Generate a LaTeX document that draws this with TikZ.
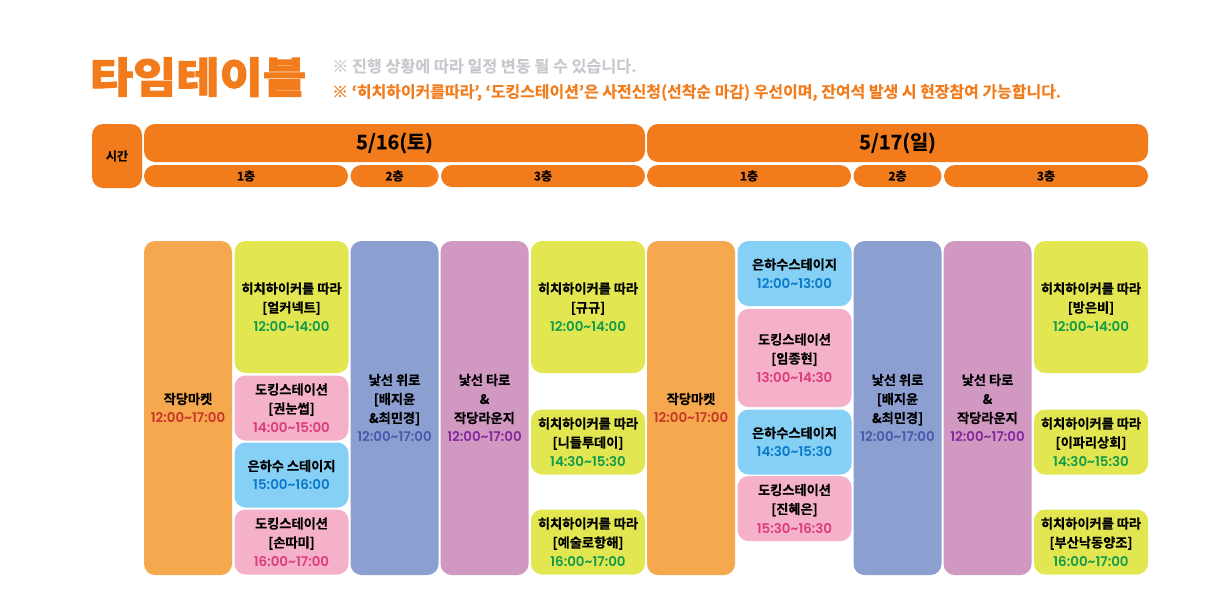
\documentclass[tikz,border=0pt]{standalone}
\usepackage{fontspec}
\setmainfont{Noto Sans CJK KR}[BoldFont={Noto Sans CJK KR Bold},BoldFeatures={FakeBold=0.3}]
\newfontfamily\titlefont[FakeBold=2.2,FakeStretch=1.12]{Noto Sans CJK KR Black}
\newfontfamily\timefont{Poppins SemiBold}
\definecolor{hdorange}{HTML}{F27B1C}
\definecolor{marketc}{HTML}{F5A84E}
\definecolor{hitchc}{HTML}{E2E651}
\definecolor{dockc}{HTML}{F4B1C9}
\definecolor{galaxyc}{HTML}{86D0F6}
\definecolor{comfortc}{HTML}{8C9FD1}
\definecolor{tarotc}{HTML}{D198C2}
\definecolor{tmarket}{HTML}{C8352A}
\definecolor{thitch}{HTML}{109B4C}
\definecolor{tdock}{HTML}{DC3D78}
\definecolor{tgalaxy}{HTML}{0A78C8}
\definecolor{tcomfort}{HTML}{4A58AC}
\definecolor{ttarot}{HTML}{84279C}
\definecolor{notegray}{HTML}{C8C9CE}
\tikzset{
  cell/.style={rounded corners=11pt,inner sep=0pt,align=center,font=\bfseries\fontsize{13.2}{19}\selectfont,text=black},
  head/.style={cell,fill=hdorange},
  floorhd/.style={head,minimum height=22pt,font=\bfseries\fontsize{12}{12}\selectfont},
  dayhd/.style={head,minimum width=501pt,minimum height=38pt,font=\bfseries\fontsize{20}{20}\selectfont},
}
\newcommand{\tm}[2]{{\timefont\mdseries\fontsize{13.4}{19}\selectfont\color{#1}#2}}
\begin{document}
\begin{tikzpicture}[x=1pt,y=-1pt]
\useasboundingbox (0,0) rectangle (1205,606);
% title and notes
\node (title) [anchor=center,text=hdorange,font=\titlefont\fontsize{42}{42}\selectfont] at (198,77) {타임테이블};
\node (note1) [anchor=west,inner sep=0pt,text=notegray,font=\bfseries\fontsize{16.2}{16}\selectfont] at (332,66) {※ 진행 상황에 따라 일정 변동 될 수 있습니다.};
\node (note2) [anchor=west,inner sep=0pt,text=hdorange,font=\bfseries\fontsize{15.95}{16}\selectfont] at (332,92.5) {※ ‘히치하이커를따라’, ‘도킹스테이션’은 사전신청(선착순 마감) 우선이며, 잔여석 발생 시 현장참여 가능합니다.};
% header
\node (time) [floorhd,minimum width=50pt,minimum height=64pt] at (117,156) {시간};
\node (day1) [dayhd] at (394.5,143) {5/16(토)};
\node (day2) [dayhd] at (897.5,143) {5/17(일)};
\node (floor11) [floorhd,minimum width=204pt] at (246,176) {1층};
\node (floor12) [floorhd,minimum width=88pt] at (394.5,176) {2층};
\node (floor13) [floorhd,minimum width=204pt] at (543,176) {3층};
\node (floor21) [floorhd,minimum width=204pt] at (749,176) {1층};
\node (floor22) [floorhd,minimum width=88pt] at (897.5,176) {2층};
\node (floor23) [floorhd,minimum width=204pt] at (1046,176) {3층};
% day one
\node (market1) [cell,fill=marketc,minimum width=88pt,minimum height=334pt] at (188,408) {작당마켓\\\tm{tmarket}{12:00\string~17:00}};
\node (a1) [cell,fill=hitchc,minimum width=114pt,minimum height=132pt] at (291.5,307) {히치하이커를 따라\\{[}얼커넥트{]}\\\tm{thitch}{12:00\string~14:00}};
\node (a2) [cell,fill=dockc,minimum width=114pt,minimum height=65pt] at (291.5,408) {도킹스테이션\\{[}권눈썹{]}\\\tm{tdock}{14:00\string~15:00}};
\node (a3) [cell,fill=galaxyc,minimum width=114pt,minimum height=65pt] at (291.5,475) {은하수 스테이지\\\tm{tgalaxy}{15:00\string~16:00}};
\node (a4) [cell,fill=dockc,minimum width=114pt,minimum height=65pt] at (291.5,542) {도킹스테이션\\{[}손따미{]}\\\tm{tdock}{16:00\string~17:00}};
\node (comfort1) [cell,fill=comfortc,minimum width=88pt,minimum height=334pt] at (394.5,408) {낯선 위로\\{[}배지윤\\\&최민경{]}\\\tm{tcomfort}{12:00\string~17:00}};
\node (tarot1) [cell,fill=tarotc,minimum width=88pt,minimum height=334pt] at (484.5,408) {낯선 타로\\\&\\작당라운지\\\tm{ttarot}{12:00\string~17:00}};
\node (b1) [cell,fill=hitchc,minimum width=114pt,minimum height=132pt] at (588,307) {히치하이커를 따라\\{[}규규{]}\\\tm{thitch}{12:00\string~14:00}};
\node (b2) [cell,fill=hitchc,minimum width=114pt,minimum height=65pt] at (588,442) {히치하이커를 따라\\{[}니들투데이{]}\\\tm{thitch}{14:30\string~15:30}};
\node (b3) [cell,fill=hitchc,minimum width=114pt,minimum height=65pt] at (588,542) {히치하이커를 따라\\{[}예술로항해{]}\\\tm{thitch}{16:00\string~17:00}};
% day two
\node (market2) [cell,fill=marketc,minimum width=88pt,minimum height=334pt] at (691,408) {작당마켓\\\tm{tmarket}{12:00\string~17:00}};
\node (c1) [cell,fill=galaxyc,minimum width=114pt,minimum height=65pt] at (794.5,273.5) {은하수스테이지\\\tm{tgalaxy}{12:00\string~13:00}};
\node (c2) [cell,fill=dockc,minimum width=114pt,minimum height=98pt] at (794.5,358) {도킹스테이션\\{[}임종현{]}\\\tm{tdock}{13:00\string~14:30}};
\node (c3) [cell,fill=galaxyc,minimum width=114pt,minimum height=65pt] at (794.5,442) {은하수스테이지\\\tm{tgalaxy}{14:30\string~15:30}};
\node (c4) [cell,fill=dockc,minimum width=114pt,minimum height=65pt] at (794.5,508.5) {도킹스테이션\\{[}진혜은{]}\\\tm{tdock}{15:30\string~16:30}};
\node (comfort2) [cell,fill=comfortc,minimum width=88pt,minimum height=334pt] at (897.5,408) {낯선 위로\\{[}배지윤\\\&최민경{]}\\\tm{tcomfort}{12:00\string~17:00}};
\node (tarot2) [cell,fill=tarotc,minimum width=88pt,minimum height=334pt] at (987.5,408) {낯선 타로\\\&\\작당라운지\\\tm{ttarot}{12:00\string~17:00}};
\node (d1) [cell,fill=hitchc,minimum width=114pt,minimum height=132pt] at (1091,307) {히치하이커를 따라\\{[}방은비{]}\\\tm{thitch}{12:00\string~14:00}};
\node (d2) [cell,fill=hitchc,minimum width=114pt,minimum height=65pt] at (1091,442) {히치하이커를 따라\\{[}이파리상회{]}\\\tm{thitch}{14:30\string~15:30}};
\node (d3) [cell,fill=hitchc,minimum width=114pt,minimum height=65pt] at (1091,542) {히치하이커를 따라\\{[}부산낙동양조{]}\\\tm{thitch}{16:00\string~17:00}};
\end{tikzpicture}
\end{document}
